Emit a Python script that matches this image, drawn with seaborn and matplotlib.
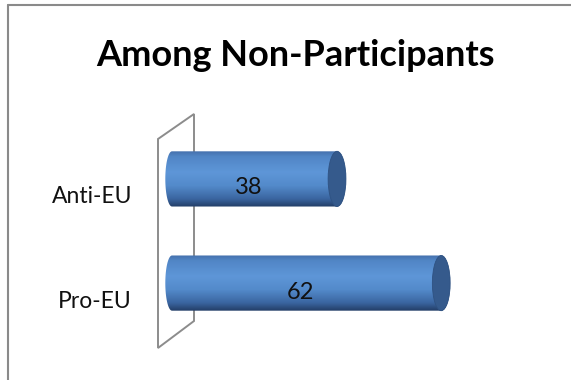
import matplotlib
matplotlib.use("Agg")
import matplotlib.pyplot as plt
import seaborn as sns
import numpy as np
import pandas as pd
from matplotlib.patches import Polygon, PathPatch, Ellipse
from matplotlib.path import Path
from matplotlib.colors import LinearSegmentedColormap
from matplotlib.transforms import ScaledTranslation

# Share of respondents among non-participants
categories = ["Anti-EU", "Pro-EU"]
values = [38, 62]
title = "Among Non-Participants"

sns.set_theme(style="white")
plt.rcParams["font.family"] = ["Lato", "DejaVu Sans"]

W, H = 571, 380
fig = plt.figure(figsize=(W / 100, H / 100), dpi=100)
fig.patch.set_facecolor("white")

def px_box(left, top, right, bottom):
    return [left / W, 1 - bottom / H, (right - left) / W, (bottom - top) / H]

XMIN, XMAX = -2, 70
ax = fig.add_axes(px_box(163.3, 106, 476, 356))
df = pd.DataFrame({"group": categories, "share": values})
sns.barplot(data=df, x="share", y="group", orient="h", width=0.53,
            color="#4f81bd", ax=ax)
ax.set_xlabel("")
ax.set_ylabel("")
ax.set_xticks([])
for s in ax.spines.values():
    s.set_visible(False)
ax.set_facecolor("none")

# cylinder shading
cmap = LinearSegmentedColormap.from_list("cyl", [
    (0.0, "#4570ac"), (0.10, "#5186c6"), (0.38, "#5e96d8"),
    (0.62, "#538aca"), (0.85, "#3b66a1"), (1.0, "#223d66")])
grad = np.linspace(0, 1, 256).reshape(-1, 1)
rx = 2.05  # half-width of the end caps in data units
for patch, v in zip(list(ax.patches), values):
    x0 = patch.get_x()
    w = patch.get_width()
    y0 = patch.get_y()
    h = patch.get_height()
    yc = y0 + h / 2
    patch.set_visible(False)
    x1 = x0 + w
    lrx = rx * 0.75
    # outline: left half-ellipse, body, right half-ellipse
    t1 = np.linspace(np.pi / 2, 3 * np.pi / 2, 40)
    left = np.column_stack([x0 + lrx * np.cos(t1), yc - (h / 2) * np.sin(t1)])
    t2 = np.linspace(-np.pi / 2, np.pi / 2, 40)
    right = np.column_stack([x1 + rx * np.cos(t2), yc - (h / 2) * np.sin(t2)])
    verts = np.vstack([left, right, left[:1]])
    path = Path(verts, closed=True)
    clip = PathPatch(path, facecolor="none", edgecolor="none", transform=ax.transData)
    ax.add_patch(clip)
    im = ax.imshow(grad, cmap=cmap, aspect="auto", origin="upper",
                   extent=(x0 - lrx, x1 + rx, y0 + h, y0), zorder=2,
                   interpolation="bilinear")
    im.set_clip_path(clip)
    cap = Ellipse((x1, yc), 2 * rx, h, facecolor="#355a8c",
                  edgecolor="#2f5282", lw=0.6, zorder=3)
    ax.add_patch(cap)
    ax.annotate(f"{v}", xy=(x0 + w / 2, yc), xytext=(-4.5, -6.5),
                textcoords="offset points", ha="center", va="center",
                fontsize=17, color="#111111", zorder=4)

ax.set_xlim(XMIN, XMAX)
ax.set_ylim(1.7, -0.7)

# side wall behind the bars
wall = [(158, 139), (194, 114), (194, 321), (158, 348)]
ax.add_patch(Polygon([(x / W, 1 - y / H) for x, y in wall], closed=True,
                     fill=False, edgecolor="#8c8c8c", lw=1.4,
                     transform=fig.transFigure, clip_on=False, zorder=1))

ax.tick_params(axis="y", length=0, pad=22.5, labelsize=16.5, labelcolor="#111111")
shift = ScaledTranslation(0, -16 / 100, fig.dpi_scale_trans)
for lab in ax.get_yticklabels():
    lab.set_transform(lab.get_transform() + shift)

fig.text(295 / W, 1 - 56 / H, title, ha="center", va="center",
         fontsize=26, fontweight="bold", color="black")

# chart frame
fig.add_artist(plt.Line2D([8 / W, 1], [1 - 5 / H, 1 - 5 / H],
                          transform=fig.transFigure, color="#8a8a8a", lw=1.5))
fig.add_artist(plt.Line2D([8 / W, 8 / W], [1 - 5 / H, 0],
                          transform=fig.transFigure, color="#8a8a8a", lw=1.5))

fig.savefig("out.png", dpi=100, facecolor="white")
